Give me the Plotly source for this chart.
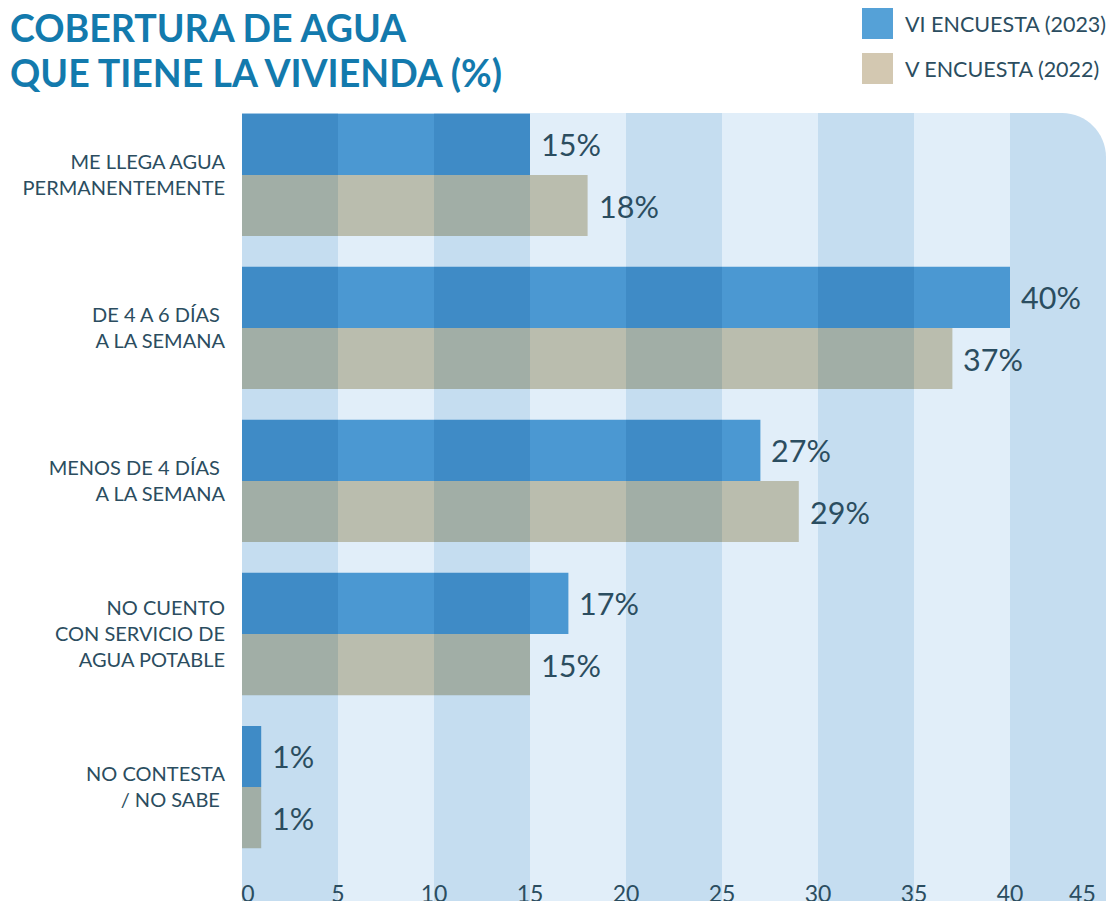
import plotly.graph_objects as go

categories = [
    "ME LLEGA AGUA<br>PERMANENTEMENTE",
    "DE 4 A 6 DÍAS\u00a0<br>A LA SEMANA",
    "MENOS DE 4 DÍAS\u00a0<br>A LA SEMANA",
    "NO CUENTO<br>CON SERVICIO DE<br>AGUA POTABLE",
    "NO CONTESTA<br>/ NO SABE\u00a0",
]
vi_2023 = [15, 40, 27, 17, 1]
v_2022 = [18, 37, 29, 15, 1]
series_names = ["VI ENCUESTA (2023)", "V ENCUESTA (2022)"]
x_ticks = [0, 5, 10, 15, 20, 25, 30, 35, 40, 45]

TEXT = "#2b4d60"
DARK_STRIPE = "#c5ddf0"
LIGHT_STRIPE = "#e1eef9"
seg_colors = {
    0: ("#3f8bc6", "#4b98d2"),   # blue on dark / light stripe
    1: ("#a1aea6", "#babdae"),   # beige on dark / light stripe
}
legend_colors = ["#55a1d7", "#d3c8b1"]

STEP = 5
XMAX = 45
BAR_W = 0.399
OFF = 0.2

# page body has an 8px margin: figure is placed at (8, 8)
PAGE_OFF = 8
W, H = 1114 - PAGE_OFF, 901 - PAGE_OFF
PLOT_L, PLOT_R, PLOT_T, PLOT_B = 242, 1106, 113, 901   # page pixels
pw, ph = PLOT_R - PLOT_L, PLOT_B - PLOT_T


def px(x):
    return (x - PLOT_L) / pw


def py(y):
    return (PLOT_B - y) / ph


# tick labels: first/last padded so they stay inside the plot band
NB = "\u00a0"
tick_text = []
for t in x_ticks:
    s = str(t)
    if t == x_ticks[0]:
        s = NB * 2 + s
    elif t == x_ticks[-1]:
        s = s + NB * 8
    tick_text.append(s)

fig = go.Figure()

series = [vi_2023, v_2022]
n = len(categories)
for s, vals in enumerate(series):
    pos = [i + (-OFF if s == 0 else OFF) for i in range(n)]
    for k in range(XMAX // STEP):
        lo = k * STEP
        lengths = [max(0, min(v - lo, STEP)) for v in vals]
        col = seg_colors[s][0] if k % 2 == 0 else seg_colors[s][1]
        fig.add_trace(go.Bar(
            y=pos, x=lengths, base=lo, orientation="h", width=BAR_W,
            marker=dict(color=col, line=dict(width=0)),
            showlegend=False, hoverinfo="skip",
        ))
    for i, v in enumerate(vals):
        fig.add_annotation(
            x=v, y=pos[i], xref="x", yref="y", text=f"{v}%",
            showarrow=False, xanchor="left", yanchor="middle", xshift=9,
            font=dict(family="Lato", size=30.5, color=TEXT),
        )

# background stripes
nstripes = XMAX // STEP
for k in range(nstripes):
    col = DARK_STRIPE if k % 2 == 0 else LIGHT_STRIPE
    x0, x1 = k * STEP, (k + 1) * STEP
    if k < nstripes - 1:
        fig.add_shape(type="rect", xref="x", yref="paper", x0=x0, x1=x1, y0=0, y1=1,
                      fillcolor=col, line_width=0, layer="below")
    else:
        r = 44
        rx = r / pw * XMAX
        ry = r / ph
        path = (f"M {x0},0 L {x0},1 L {x1 - rx},1 "
                f"C {x1 - rx*0.45},1 {x1},{1 - ry*0.45} {x1},{1 - ry} "
                f"L {x1},0 Z")
        fig.add_shape(type="path", xref="x", yref="paper", path=path,
                      fillcolor=col, line_width=0, layer="below")

# title
TITLE_FONT = dict(family="Lato", size=37.5, color="#137aad")
fig.add_annotation(x=px(8), y=py(3), xref="paper", yref="paper",
                   text="<b>COBERTURA DE AGUA</b>", showarrow=False,
                   xanchor="left", yanchor="top", font=TITLE_FONT)
fig.add_annotation(x=px(8), y=py(48), xref="paper", yref="paper",
                   text="<b>QUE TIENE LA VIVIENDA (%)</b>", showarrow=False,
                   xanchor="left", yanchor="top", font=TITLE_FONT)

# legend
for j, name in enumerate(series_names):
    top = 8 + 45 * j
    fig.add_shape(type="rect", xref="paper", yref="paper",
                  x0=px(862), x1=px(893), y0=py(top + 31), y1=py(top),
                  fillcolor=legend_colors[j], line_width=0)
    fig.add_annotation(x=px(903), y=py(top + 16), xref="paper", yref="paper",
                       text=name, showarrow=False,
                       xanchor="left", yanchor="middle",
                       font=dict(family="Lato", size=21.5, color=TEXT))

fig.update_layout(
    width=W, height=H,
    margin=dict(l=PLOT_L - PAGE_OFF, r=W - (PLOT_R - PAGE_OFF),
                t=PLOT_T - PAGE_OFF, b=H - (PLOT_B - PAGE_OFF),
                autoexpand=False),
    paper_bgcolor="white", plot_bgcolor="white",
    barmode="overlay", showlegend=False,
    xaxis=dict(range=[0, XMAX], tickvals=x_ticks, ticktext=tick_text,
               showgrid=False, zeroline=False,
               showline=False, ticks="", ticklabelposition="inside",
               ticklabeloverflow="allow", ticklabelstandoff=-9, automargin=False,
               tickfont=dict(family="Lato", size=23, color=TEXT)),
    yaxis=dict(range=[4.745, -0.405], tickvals=list(range(n)), ticktext=categories,
               showgrid=False, zeroline=False, showline=False, ticks="",
               ticklabelstandoff=16, automargin=False,
               tickfont=dict(family="Lato", size=20, color=TEXT)),
)

fig.write_html("out.html")
